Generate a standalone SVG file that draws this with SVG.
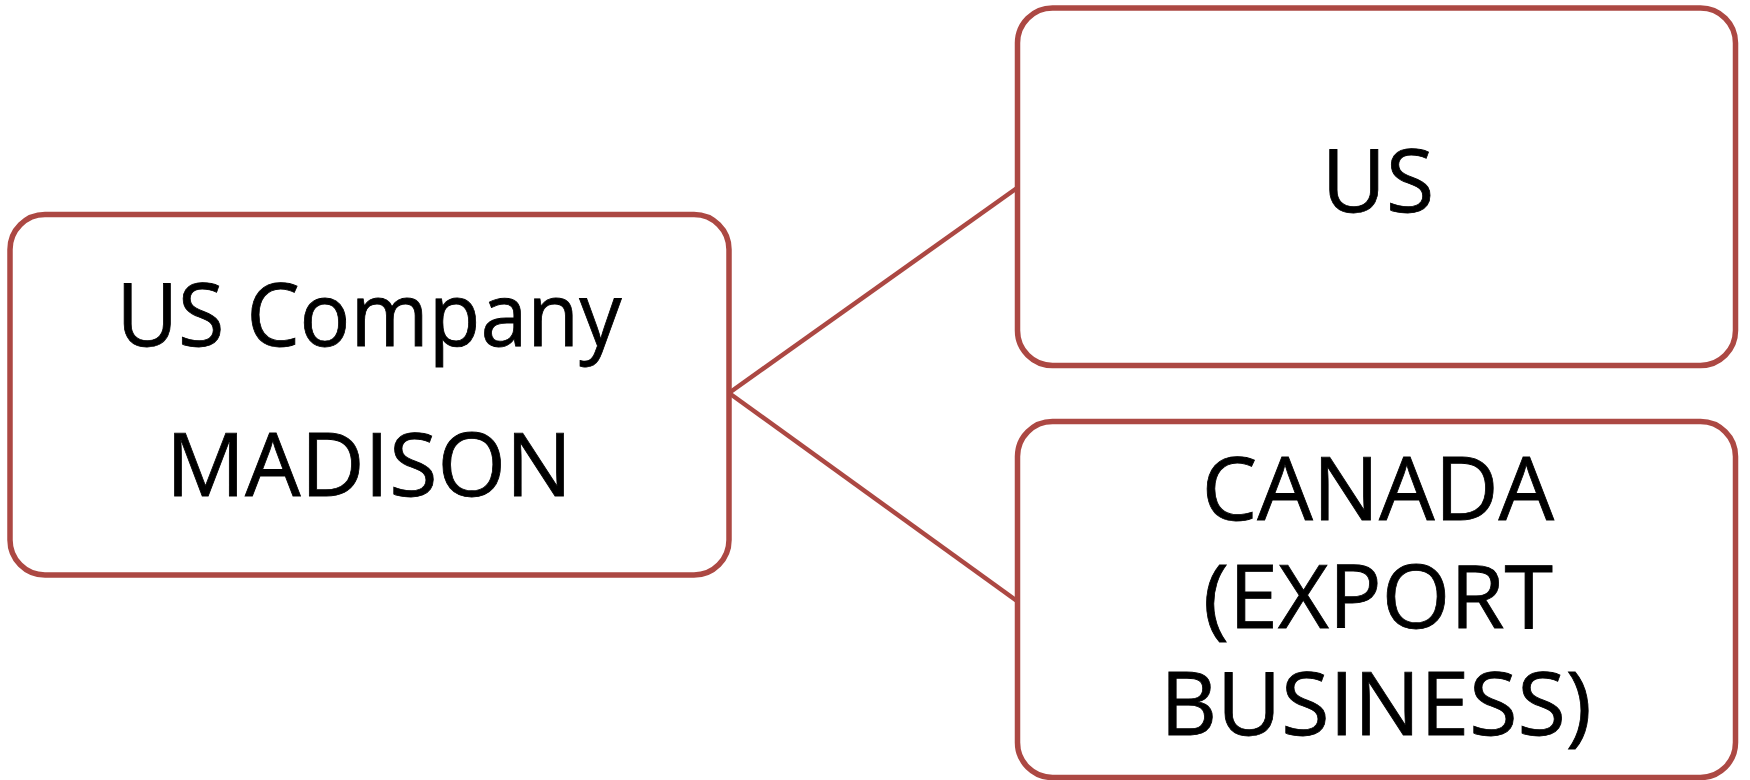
<svg xmlns="http://www.w3.org/2000/svg" width="1750" height="780" viewBox="0 0 1750 780">
  <style>
    .box { fill: #ffffff; stroke: #ac4843; stroke-width: 5.5; }
    .link { fill: none; stroke: #ac4843; stroke-width: 4.5; }
    .label { font-family: "Open Sans", "Noto Sans", "Liberation Sans", sans-serif; font-size: 88px; fill: #000000; text-anchor: middle; stroke: #000000; stroke-width: 0.8; }
  </style>
  <rect width="1750" height="780" fill="#ffffff"/>

  <!-- connectors from the root to both branches -->
  <g id="connectors">
    <path class="link" d="M729,393 L1017,188"/>
    <path class="link" d="M729,393 L1017,601"/>
  </g>

  <g id="node-madison">
    <rect class="box" x="10" y="214.5" width="719" height="360.5" rx="35" ry="35"/>
    <text class="label" x="369" y="346" textLength="505" lengthAdjust="spacingAndGlyphs">US Company</text>
    <text class="label" x="369" y="496">MADISON</text>
  </g>

  <g id="node-us">
    <rect class="box" x="1017.5" y="8" width="718" height="357.5" rx="35" ry="35"/>
    <text class="label" x="1378" y="212">US</text>
  </g>

  <g id="node-canada">
    <rect class="box" x="1017.5" y="421.5" width="718" height="356" rx="35" ry="35"/>
    <text class="label" x="1378" y="520">CANADA</text>
    <text class="label" x="1378" y="628">(EXPORT</text>
    <text class="label" x="1376" y="735">BUSINESS)</text>
  </g>
</svg>
